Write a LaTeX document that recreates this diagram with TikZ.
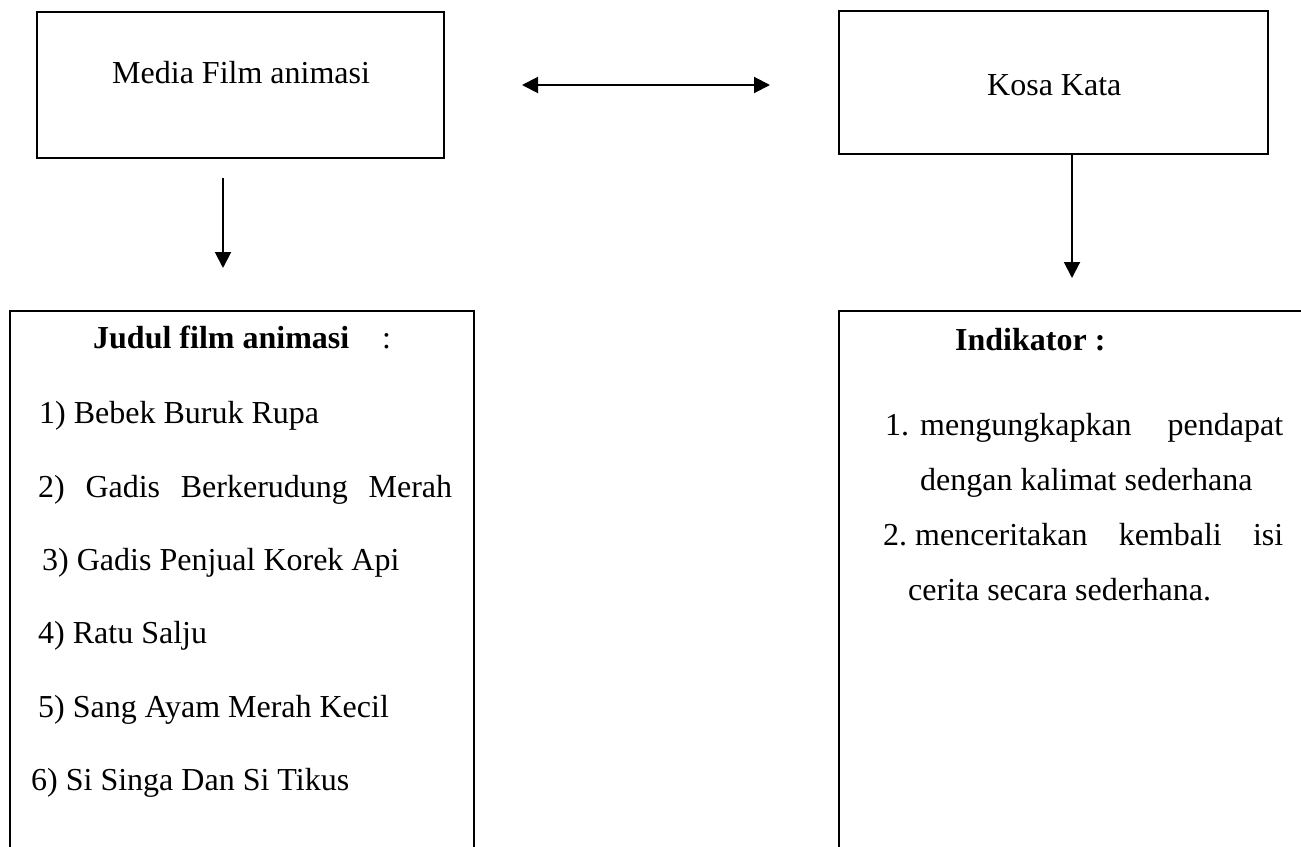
\documentclass[tikz,border=0pt]{standalone}
\usepackage{fontspec}
\setmainfont{Liberation Serif}
\usetikzlibrary{arrows.meta}
\tikzset{
  boxline/.style={draw=black, line width=2pt},
  txt/.style={inner sep=0pt, anchor=base west, font=\fontsize{32}{36}\selectfont},
  conn/.style={line width=2pt, -{Triangle[length=16pt,width=16pt]}},
  dconn/.style={line width=2pt, {Triangle[length=16pt,width=16pt]}-{Triangle[length=16pt,width=16pt]}}
}
\begin{document}
\begin{tikzpicture}[x=1pt,y=-1pt]
\useasboundingbox (0,0) rectangle (1301,846);
\clip (0,0) rectangle (1301,846);
% top boxes
\node[boxline, anchor=north west, minimum width=407pt, minimum height=146pt, inner sep=0pt] (media) at (36,11) {};
\node[boxline, anchor=north west, minimum width=429pt, minimum height=143pt, inner sep=0pt] (kosa) at (838,10) {};
\node[txt] (mediat) at (112,83) {Media Film animasi};
\node[txt] (kosat) at (987,95) {Kosa Kata};
% bottom boxes (open at the page edges)
\node[boxline, anchor=north west, minimum width=464pt, minimum height=580pt, inner sep=0pt] (judul) at (9,310) {};
\node[boxline, anchor=north west, minimum width=520pt, minimum height=580pt, inner sep=0pt] (indik) at (838,310) {};
% connectors
\coordinate (l1) at (522,85);
\coordinate (l2) at (770,85);
\draw[dconn] (l1) -- (l2);
\coordinate (a1) at (223,178);
\coordinate (a2) at (223,268);
\draw[conn] (a1) -- (a2);
\coordinate (b2) at (1072,278);
\draw[conn] (kosa.south -| b2) -- (b2);
% left list
\node[txt, font=\fontsize{32}{36}\selectfont\bfseries] (jh) at (93,348) {Judul film animasi};
\node[txt] (jc) at (382,348) {:};
\node[txt] (j1) at (39,423) {1) Bebek Buruk Rupa};
\node[txt] (j2) at (38,497) {\hbox to 414pt{2)\hfill Gadis\hfill Berkerudung\hfill Merah}};
\node[txt] (j3) at (42,570) {3) Gadis Penjual Korek Api};
\node[txt] (j4) at (38,643) {4) Ratu Salju};
\node[txt] (j5) at (38,717) {5) Sang Ayam Merah Kecil};
\node[txt] (j6) at (31,790) {6) Si Singa Dan Si Tikus};
% right list
\node[txt, font=\fontsize{32}{36}\selectfont\bfseries] (ih) at (955,350) {Indikator :};
\node[txt] (i1n) at (885,435) {1.};
\node[txt] (i1) at (920,435) {\hbox to 363pt{mengungkapkan\hfill pendapat}};
\node[txt] (i1b) at (920,490) {dengan kalimat sederhana};
\node[txt] (i2n) at (883,545) {2.};
\node[txt] (i2) at (915,545) {\hbox to 368pt{menceritakan\hfill kembali\hfill isi}};
\node[txt] (i2b) at (908,600) {cerita secara sederhana.};
\end{tikzpicture}
\end{document}
